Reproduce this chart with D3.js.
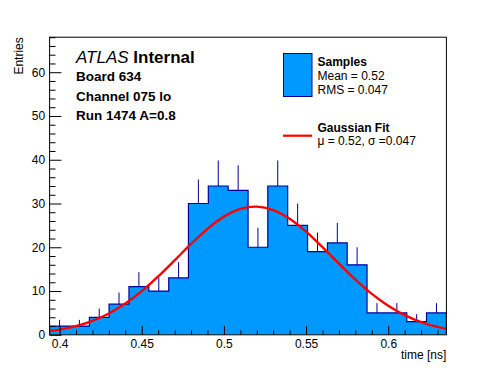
<!DOCTYPE html>
<html>
<head>
<meta charset="utf-8">
<script src="https://cdn.jsdelivr.net/npm/d3@7"></script>
<style>
  body { margin: 0; background: #fff; }
  text { font-family: "Liberation Sans", Arial, Helvetica, sans-serif; }
</style>
</head>
<body>
<svg id="graph"></svg>
<script>
// histogram bins (lower edges + last upper edge) and counts
const binEdges = [0.3939, 0.4060, 0.4181, 0.4301, 0.4422, 0.4543, 0.4664, 0.4784,
  0.4905, 0.5026, 0.5147, 0.5267, 0.5388, 0.5509, 0.5630, 0.5750, 0.5871,
  0.5992, 0.6113, 0.6233, 0.6354];
const counts = [2, 2, 4, 7, 11, 10, 13, 30, 34, 33, 20, 34, 25, 19, 21, 16, 5, 5, 3, 5];

// gaussian fit curve
const fitX = [0.39, 0.40, 0.41, 0.42, 0.43, 0.44, 0.45, 0.46, 0.47, 0.48, 0.49, 0.50,
  0.51, 0.52, 0.53, 0.54, 0.55, 0.56, 0.57, 0.58, 0.59, 0.60, 0.61, 0.62, 0.63, 0.64];
const fitY = [0.68, 1.19, 1.99, 3.19, 4.88, 7.13, 9.97, 13.33, 17.01, 20.77, 24.22, 27.0,
  28.77, 29.29, 28.51, 26.52, 23.57, 20.03, 16.26, 12.62, 9.36, 6.64, 4.5, 2.91, 1.8, 1.07];

// axis ticks
const xMajor = [0.4, 0.45, 0.5, 0.55, 0.6];
const xMinor = [0.41, 0.42, 0.43, 0.44, 0.46, 0.47, 0.48, 0.49, 0.51, 0.52, 0.53, 0.54,
  0.56, 0.57, 0.58, 0.59, 0.61, 0.62, 0.63];
const yMajor = [0, 10, 20, 30, 40, 50, 60];
const yMinor = [2, 4, 6, 8, 12, 14, 16, 18, 22, 24, 26, 28, 32, 34, 36, 38, 42, 44, 46, 48,
  52, 54, 56, 58, 62, 64, 66, 68];
const yMax = 68;

// labels
const titleLines = ["Board 634", "Channel 075 lo", "Run 1474 A=0.8"];
const legendSamples = ["Mean = 0.52", "RMS = 0.047"];
const legendFit = "\u03bc = 0.52, \u03c3 =0.047";

const width = 496;
const height = 372;
const frameLeft = 49.6;
const frameRight = 446.4;
const frameTop = 37.2;
const frameBottom = 334.8;

const fillColor = "#0099ff";
const lineColor = "#000099";

const svg = d3.select("#graph").attr("width", width).attr("height", height);

const xScale = d3.scaleLinear().domain([binEdges[0], binEdges[binEdges.length - 1]]).range([frameLeft, frameRight]);
const yScale = d3.scaleLinear().domain([0, yMax]).range([frameBottom, frameTop]);

svg.append("defs").append("clipPath").attr("id", "frameClip")
  .append("rect").attr("x", frameLeft).attr("y", frameTop)
  .attr("width", frameRight - frameLeft).attr("height", frameBottom - frameTop);

const plot = svg.append("g").attr("clip-path", "url(#frameClip)");

// error bars first, the fill hides the lower half
plot.selectAll(".err")
  .data(counts)
  .enter()
  .append("line")
  .attr("class", "err")
  .attr("x1", (d, i) => xScale((binEdges[i] + binEdges[i + 1]) / 2))
  .attr("x2", (d, i) => xScale((binEdges[i] + binEdges[i + 1]) / 2))
  .attr("y1", (d) => yScale(d - Math.sqrt(d)))
  .attr("y2", (d) => yScale(d + Math.sqrt(d)))
  .attr("stroke", lineColor)
  .attr("stroke-width", 1);

// step outline of the histogram
const stepPoints = [[binEdges[0], 0]];
counts.forEach((c, i) => {
  stepPoints.push([binEdges[i], c]);
  stepPoints.push([binEdges[i + 1], c]);
});
stepPoints.push([binEdges[binEdges.length - 1], 0]);

const stepLine = d3.line().x((d) => xScale(d[0])).y((d) => yScale(d[1]));

plot.append("path")
  .attr("d", stepLine(stepPoints) + "Z")
  .attr("fill", fillColor)
  .attr("stroke", "none");

plot.append("path")
  .attr("d", stepLine(stepPoints))
  .attr("fill", "none")
  .attr("stroke", lineColor)
  .attr("stroke-width", 1.2);

// fit curve
const fitLine = d3.line()
  .x((d, i) => xScale(fitX[i]))
  .y((d) => yScale(d))
  .curve(d3.curveCatmullRom);

plot.append("path")
  .attr("d", fitLine(fitY))
  .attr("fill", "none")
  .attr("stroke", "#ff0000")
  .attr("stroke-width", 2.4);

// axes, ROOT style ticks pointing into the frame
const xAxisMajor = d3.axisBottom(xScale).tickValues(xMajor).tickSize(-8.9).tickPadding(4.5)
  .tickFormat((d) => d3.format("")(+d.toFixed(2)));
const xAxisMinor = d3.axisBottom(xScale).tickValues(xMinor).tickSize(-4.5).tickFormat("");
const yAxisMajor = d3.axisLeft(yScale).tickValues(yMajor).tickSize(-11.9).tickPadding(4.5);
const yAxisMinor = d3.axisLeft(yScale).tickValues(yMinor).tickSize(-5.9).tickFormat("");

const drawAxis = (axis, transform) => {
  const g = svg.append("g").attr("transform", transform).call(axis);
  g.select(".domain").remove();
  g.selectAll("line").attr("stroke", "#000").attr("stroke-width", 1);
  g.selectAll("text").attr("fill", "#000").style("font-size", "12px")
    .style("font-family", "'Liberation Sans', Arial, sans-serif");
  return g;
};

drawAxis(xAxisMajor, "translate(0," + frameBottom + ")");
drawAxis(xAxisMinor, "translate(0," + frameBottom + ")");
drawAxis(yAxisMajor, "translate(" + frameLeft + ",0)");
drawAxis(yAxisMinor, "translate(" + frameLeft + ",0)");

svg.append("rect")
  .attr("x", frameLeft).attr("y", frameTop)
  .attr("width", frameRight - frameLeft).attr("height", frameBottom - frameTop)
  .attr("fill", "none").attr("stroke", "#000").attr("stroke-width", 1);

// axis titles
svg.append("text")
  .attr("transform", "translate(23," + frameTop + ") rotate(-90)")
  .attr("text-anchor", "end")
  .style("font-size", "12px")
  .text("Entries");

svg.append("text")
  .attr("x", frameRight).attr("y", 358.5)
  .attr("text-anchor", "end")
  .style("font-size", "12px")
  .text("time [ns]");

// ATLAS label block
const atlas = svg.append("text").attr("x", 76).attr("y", 63).style("font-size", "17px");
atlas.append("tspan").style("font-style", "italic").text("ATLAS");
atlas.append("tspan").style("font-weight", "bold").text(" Internal");

svg.selectAll(".info")
  .data(titleLines)
  .enter()
  .append("text")
  .attr("class", "info")
  .attr("x", 76)
  .attr("y", (d, i) => 81 + i * 19.5)
  .style("font-size", "13.5px")
  .style("font-weight", "bold")
  .text((d) => d);

// legend
svg.append("rect")
  .attr("x", 283.5).attr("y", 53.5).attr("width", 28.5).attr("height", 43)
  .attr("fill", fillColor).attr("stroke", lineColor).attr("stroke-width", 1);

svg.append("text").attr("x", 317.5).attr("y", 65.5)
  .style("font-size", "12px").style("font-weight", "bold").text("Samples");

svg.selectAll(".stat")
  .data(legendSamples)
  .enter()
  .append("text")
  .attr("class", "stat")
  .attr("x", 317.5)
  .attr("y", (d, i) => 80 + i * 13.5)
  .style("font-size", "12px")
  .text((d) => d);

svg.append("line")
  .attr("x1", 283).attr("x2", 312).attr("y1", 135.7).attr("y2", 135.7)
  .attr("stroke", "#ff0000").attr("stroke-width", 2.2);

svg.append("text").attr("x", 317.5).attr("y", 131.5)
  .style("font-size", "12px").style("font-weight", "bold")
  .text("Gaussian Fit");

svg.append("text").attr("x", 317.5).attr("y", 145)
  .style("font-size", "12px")
  .text(legendFit);
</script>
</body>
</html>
